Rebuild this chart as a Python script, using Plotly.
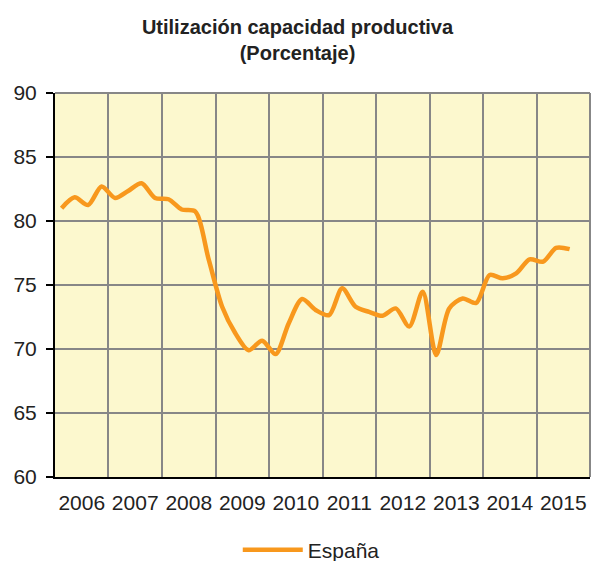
import plotly.graph_objects as go

# Quarterly data, 2006Q1 .. 2015Q3
quarters = [f"{y}-{m:02d}-15" for y in range(2006, 2016) for m in (2, 5, 8, 11)][:39]
espana = [81.0, 81.85, 81.25, 82.7, 81.8, 82.35, 82.95, 81.8,
          81.7, 80.9, 80.75, 77.0, 73.3, 71.25, 69.9, 70.65,
          69.6, 72.0, 73.9, 73.05, 72.65, 74.74, 73.3, 72.9,
          72.6, 73.17, 71.75, 74.48, 69.53, 73.17, 73.95, 73.6,
          75.78, 75.52, 75.9, 77.0, 76.82, 77.9, 77.8]

title_text = "<b>Utilización capacidad productiva<br>(Porcentaje)</b>"
series_name = "España"

FONT = "Liberation Sans, Arial, sans-serif"

fig = go.Figure()
fig.add_trace(go.Scatter(
    x=quarters, y=espana, name=series_name, mode="lines",
    line=dict(color="#F8981D", width=4.5, shape="spline", smoothing=0.8),
))

fig.update_layout(
    width=595, height=561,
    margin=dict(l=55, r=5, t=93, b=84, autoexpand=False),
    paper_bgcolor="white", plot_bgcolor="#FCF8CE",
    font=dict(family=FONT, color="#222222", size=21),
    title=dict(text=title_text, x=0.5, xanchor="center", xref="container",
               y=1 - 34 / 561, yref="container", yanchor="middle",
               font=dict(family=FONT, size=20, color="#222222")),
    showlegend=True,
    legend=dict(orientation="h", x=0.479, xanchor="center",
                y=1 - 550 / 561, yref="container",
                yanchor="middle", font=dict(size=21, color="#222222"),
                itemwidth=60, bgcolor="rgba(0,0,0,0)"),
    xaxis=dict(type="date", range=["2006-01-01", "2016-01-01"],
               dtick="M12", tick0="2006-01-01", tickformat="%Y",
               ticklabelmode="period", showgrid=True, gridcolor="#878787",
               gridwidth=2, showline=True, linecolor="black", linewidth=2,
               ticks="", ticklabelstandoff=6, zeroline=False,
               automargin=False),
    yaxis=dict(range=[60, 90], dtick=5, tick0=60, showgrid=True,
               gridcolor="#878787", gridwidth=2, showline=True,
               linecolor="black", linewidth=2, ticks="outside", ticklen=7,
               tickwidth=2, tickcolor="black", ticklabelstandoff=5,
               zeroline=False, automargin=False),
    shapes=[
        dict(type="line", xref="paper", yref="paper", x0=1, x1=1, y0=0, y1=1,
             line=dict(color="#878787", width=2)),
        dict(type="line", xref="paper", yref="paper", x0=0, x1=1, y0=1, y1=1,
             line=dict(color="#878787", width=2)),
    ],
)

fig.write_html(
    "out.html",
    config={"displayModeBar": False},
    post_script="document.body.style.margin='0';document.body.style.overflow='hidden';",
)
